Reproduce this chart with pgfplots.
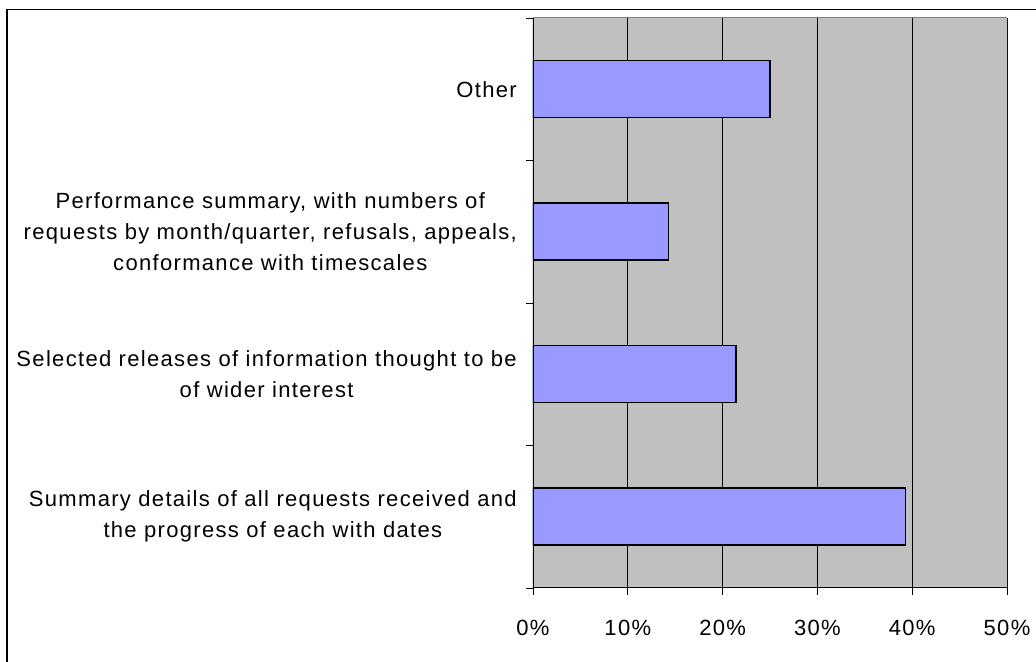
\documentclass[border=0pt]{standalone}
\usepackage{fontspec}
\setmainfont{Liberation Sans}
\usepackage{pgfplots}
\pgfplotsset{compat=1.18}
\definecolor{barfill}{HTML}{9999FF}
\definecolor{plotbg}{HTML}{C0C0C0}
\definecolor{frameg}{HTML}{808080}
\newfontfamily\lblfont[LetterSpace=6]{Liberation Sans}
\begin{document}
\begin{tikzpicture}[x=1bp,y=1bp]
\path[use as bounding box] (-533,-74) rectangle (503,588);
\draw[line width=1.5bp] (-526,-80) -- (-526,578.5) -- (510,578.5);
\begin{axis}[
  at={(0,0)}, anchor=south west,
  scale only axis, width=474bp, height=570bp,
  xbar, bar width=57bp,
  xmin=0, xmax=50, ymin=-0.5, ymax=3.5,
  axis background/.style={fill=plotbg},
  axis line style={draw=none},
  xtick={0,10,20,30,40,50},
  xticklabels={0\%,10\%,20\%,30\%,40\%,50\%},
  ytick={0,1,2,3},
  yticklabels={
    {Summary details of all requests received and\\the progress of each with dates},
    {Selected releases of information thought to be\\of wider interest},
    {Performance summary, with numbers of\\requests by month/quarter, refusals, appeals,\\conformance with timescales},
    {Other}},
  tick pos=left,
  tick align=outside,
  major tick length=7bp,
  xtick style={draw=black, line width=0.8bp},
  ytick style={draw=none},
  extra y ticks={-0.5,0.5,1.5,2.5,3.5},
  extra y tick labels={},
  extra y tick style={ytick style={draw=black, line width=0.8bp}},
  xmajorgrids,
  major grid style={black, line width=0.8bp},
  yticklabel style={align=center, font=\lblfont\fontsize{22bp}{31bp}\selectfont, inner sep=0pt, xshift=-9bp},
  xticklabel style={font=\lblfont\fontsize{22bp}{22bp}\selectfont, inner sep=0pt, yshift=-25bp},
]
\addplot[fill=barfill, draw=black, line width=1.5bp] coordinates {(39.3,0) (21.4,1) (14.3,2) (25.0,3)};
\draw[frameg, line width=1bp] (rel axis cs:0,1) -- (rel axis cs:1,1) -- (rel axis cs:1,0);
\draw[black, line width=1.2bp] (rel axis cs:0,1) -- (rel axis cs:0,0) -- (rel axis cs:1,0);
\end{axis}
\end{tikzpicture}
\end{document}
